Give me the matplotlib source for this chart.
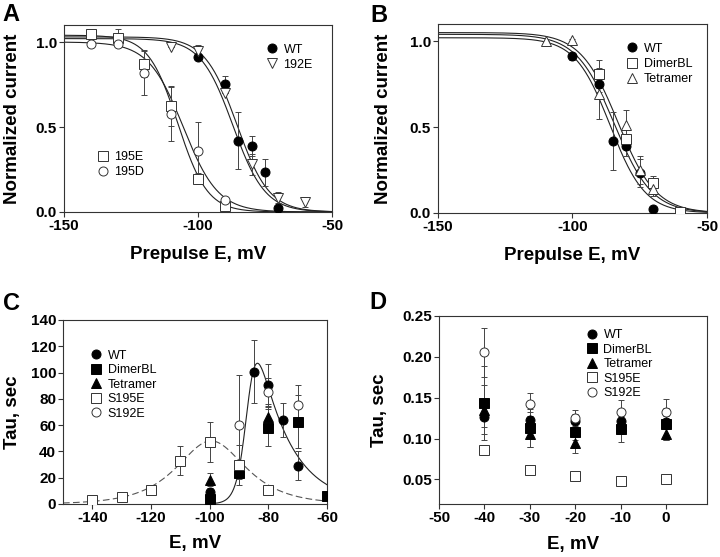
import matplotlib
matplotlib.use("Agg")
import matplotlib.pyplot as plt
import numpy as np

plt.rcParams['font.family'] = ['Liberation Sans', 'DejaVu Sans']
plt.rcParams['axes.unicode_minus'] = False

# ---- panel A: steady-state inactivation, mutants ----
a_wt_e = [-100, -90, -85, -80, -75, -70]
a_wt_v = [0.912, 0.752, 0.42, 0.39, 0.234, 0.025]
a_wt_err = [0.02, 0.05, 0.17, 0.06, 0.08, 0.0]
a_192e_e = [-110, -100, -90, -80, -70, -60]
a_192e_v = [0.97, 0.95, 0.70, 0.28, 0.085, 0.06]
a_192e_err = [0.0, 0.03, 0.0, 0.06, 0.03, 0.03]
a_195e_e = [-140, -130, -120, -110, -100, -90]
a_195e_v = [1.045, 1.025, 0.873, 0.624, 0.197, 0.035]
a_195e_err = [0.02, 0.05, 0.08, 0.12, 0.03, 0.0]
a_195d_e = [-140, -130, -120, -110, -100, -90]
a_195d_v = [0.99, 0.986, 0.82, 0.577, 0.357, 0.068]
a_195d_err = [0.0, 0.0, 0.13, 0.16, 0.17, 0.0]
# Boltzmann fit parameters: top, V1/2, slope
a_fits = [(1.02, -87.0, 6.0), (1.03, -85.5, 6.0), (1.04, -107.5, 5.5), (1.0, -105.5, 6.5)]

# ---- panel B: WT, dimer, tetramer ----
b_wt_e = a_wt_e
b_wt_v = a_wt_v
b_wt_err = a_wt_err
b_dim_e = [-90, -80, -70, -60]
b_dim_v = [0.81, 0.43, 0.175, 0.004]
b_dim_err = [0.08, 0.03, 0.04, 0.0]
b_tet_e = [-110, -100, -90, -80, -75, -70]
b_tet_v = [1.0, 1.005, 0.695, 0.51, 0.25, 0.14]
b_tet_err = [0.0, 0.01, 0.15, 0.09, 0.08, 0.04]
b_fits = [(1.02, -86.0, 6.5), (1.05, -83.0, 7.0), (1.04, -84.5, 7.0)]

# ---- panel C: tau at prepulse potentials ----
c_wt_e = [-100, -85, -80, -75, -70]
c_wt_v = [9.0, 100.6, 90.3, 64.0, 29.2]
c_wt_err = [3, 24, 16, 13, 11]
c_dim_e = [-100, -90, -80, -70, -60]
c_dim_v = [3.9, 23.7, 58.0, 62.7, 5.7]
c_dim_err = [2, 5, 14, 20, 0]
c_tet_e = [-100, -80]
c_tet_v = [18.6, 66.3]
c_tet_err = [5, 10]
c_195_e = [-140, -130, -120, -110, -100, -90, -80]
c_195_v = [3.1, 5.2, 10.3, 32.8, 47.0, 29.7, 10.8]
c_195_err = [0, 0, 0, 11, 15, 15, 0]
c_192_e = [-90, -80, -70]
c_192_v = [60.0, 85.0, 75.6]
c_192_err = [38, 11, 15]
# bell fits: A, V0, w1, w2 ; tau = A / (exp((V-V0)/w1) + exp(-(V-V0)/w2))
c_fit_solid = (164.5, -86.6, 11.0, 2.0)
c_fit_dash = (96.0, -99.5, 10.4, 10.4)

# ---- panel D: tau at test potentials ----
d_e = [-40, -30, -20, -10, 0]
d_wt = [0.1265, 0.123, 0.1216, 0.122, 0.120]
d_wt_err = [0.012, 0.01, 0.008, 0.01, 0.008]
d_dim = [0.1436, 0.113, 0.108, 0.112, 0.118]
d_dim_err = [0.045, 0.023, 0.01, 0.016, 0.02]
d_tet = [0.135, 0.106, 0.094, 0.116, 0.106]
d_tet_err = [0.03, 0.016, 0.0115, 0.01, 0.008]
d_195 = [0.0866, 0.0613, 0.054, 0.048, 0.050]
d_195_err = [0, 0, 0, 0, 0]
d_192 = [0.2055, 0.142, 0.125, 0.132, 0.132]
d_192_err = [0.03, 0.014, 0.01, 0.015, 0.017]


def boltz(v, top, vh, k):
    return top / (1 + np.exp((v - vh) / k))


def bell(v, a, v0, w1, w2):
    return a / (np.exp((v - v0) / w1) + np.exp(-(v - v0) / w2))


def pts(ax, x, y, err, marker, filled, label, z=3):
    fc = 'black' if filled else 'white'
    ec = 'black' if filled else '#333333'
    ax.errorbar(x, y, yerr=err, fmt='none', ecolor='#444444', elinewidth=0.7,
                capsize=2.2, capthick=0.7, zorder=2)
    ax.plot(x, y, linestyle='none', marker=marker, markersize=6.5, markerfacecolor=fc,
            markeredgecolor=ec, markeredgewidth=0.7, label=label, zorder=z)


def style(ax):
    for s in ax.spines.values():
        s.set_color('#333333')
        s.set_linewidth(0.8)
    ax.tick_params(direction='out', length=3.5, width=0.8, color='#333333',
                   labelsize=11, pad=1.5)
    for t in ax.get_xticklabels() + ax.get_yticklabels():
        t.set_fontweight('bold')


fig = plt.figure(figsize=(7.2, 5.57), dpi=100)
axA = fig.add_axes([0.0889, 0.6194, 0.3722, 0.3357])
axB = fig.add_axes([0.6083, 0.6176, 0.3736, 0.3393])
axC = fig.add_axes([0.0875, 0.0952, 0.3667, 0.3303])
axD = fig.add_axes([0.6097, 0.0952, 0.3722, 0.3375])

lw_fit = 0.8
vv = np.linspace(-150, -50, 300)

# A
for p in a_fits:
    axA.plot(vv, boltz(vv, *p), color='#222222', linewidth=lw_fit, zorder=1)
pts(axA, a_wt_e, a_wt_v, a_wt_err, 'o', True, 'WT')
pts(axA, a_192e_e, a_192e_v, a_192e_err, 'v', False, '192E')
pts(axA, a_195e_e, a_195e_v, a_195e_err, 's', False, '195E')
pts(axA, a_195d_e, a_195d_v, a_195d_err, 'o', False, '195D')
axA.set_xlim(-150, -50)
axA.set_ylim(0, 1.1)
axA.set_xticks([-150, -100, -50])
axA.set_yticks([0, 0.5, 1.0])
axA.set_yticklabels(['0.0', '0.5', '1.0'])
h, l = axA.get_legend_handles_labels()
leg1 = axA.legend(h[:2], l[:2], loc='upper right', bbox_to_anchor=(0.97, 0.96), frameon=False,
                  fontsize=9, handlelength=1.0, handletextpad=0.4, labelspacing=0.25)
axA.add_artist(leg1)
axA.legend(h[2:], l[2:], loc='lower left', bbox_to_anchor=(0.08, 0.12), frameon=False,
           fontsize=9, handlelength=1.0, handletextpad=0.4, labelspacing=0.25)

# B
for p in b_fits:
    axB.plot(vv, boltz(vv, *p), color='#222222', linewidth=lw_fit, zorder=1)
pts(axB, b_wt_e, b_wt_v, b_wt_err, 'o', True, 'WT')
pts(axB, b_dim_e, b_dim_v, b_dim_err, 's', False, 'DimerBL')
pts(axB, b_tet_e, b_tet_v, b_tet_err, '^', False, 'Tetramer')
axB.set_xlim(-150, -50)
axB.set_ylim(0, 1.1)
axB.set_xticks([-150, -100, -50])
axB.set_yticks([0, 0.5, 1.0])
axB.set_yticklabels(['0.0', '0.5', '1.0'])
axB.legend(loc='upper right', bbox_to_anchor=(0.99, 0.96), frameon=False,
           fontsize=9, handlelength=1.0, handletextpad=0.4, labelspacing=0.25)

# C
vc = np.linspace(-150, -60, 400)
vs = vc[vc >= -100]
axC.plot(vs, bell(vs, *c_fit_solid), color='#222222', linewidth=lw_fit, zorder=1)
axC.plot(vc, bell(vc, *c_fit_dash), color='#555555', linewidth=lw_fit, dashes=(6, 3), zorder=1)
pts(axC, c_wt_e, c_wt_v, c_wt_err, 'o', True, 'WT')
pts(axC, c_dim_e, c_dim_v, c_dim_err, 's', True, 'DimerBL')
pts(axC, c_tet_e, c_tet_v, c_tet_err, '^', True, 'Tetramer')
pts(axC, c_195_e, c_195_v, c_195_err, 's', False, 'S195E')
pts(axC, c_192_e, c_192_v, c_192_err, 'o', False, 'S192E')
axC.set_xlim(-150, -60)
axC.set_ylim(0, 140)
axC.set_xticks([-140, -120, -100, -80, -60])
axC.set_yticks(range(0, 141, 20))
axC.legend(loc='upper left', bbox_to_anchor=(0.06, 0.9), frameon=False,
           fontsize=9, handlelength=1.0, handletextpad=0.4, labelspacing=0.2)

# D (tetramer drawn underneath so it hides like in the original)
pts(axD, d_e, d_wt, d_wt_err, 'o', True, 'WT', z=4)
pts(axD, d_e, d_dim, d_dim_err, 's', True, 'DimerBL', z=4)
pts(axD, d_e, d_tet, d_tet_err, '^', True, 'Tetramer', z=3)
pts(axD, d_e, d_195, d_195_err, 's', False, 'S195E', z=4)
pts(axD, d_e, d_192, d_192_err, 'o', False, 'S192E', z=5)
axD.set_xlim(-50, 9)
axD.set_ylim(0.02, 0.25)
axD.set_xticks([-50, -40, -30, -20, -10, 0])
axD.set_yticks([0.05, 0.10, 0.15, 0.20, 0.25])
axD.set_yticklabels(['0.05', '0.10', '0.15', '0.20', '0.25'])
axD.legend(loc='upper right', bbox_to_anchor=(0.84, 0.99), frameon=False,
           fontsize=9, handlelength=1.0, handletextpad=0.4, labelspacing=0.2)

for ax in (axA, axB, axC, axD):
    style(ax)

lab = dict(fontsize=13.5, fontweight='bold')
axA.set_ylabel('Normalized current', **lab)
axB.set_ylabel('Normalized current', **lab)
axC.set_ylabel('Tau, sec', **lab)
axD.set_ylabel('Tau, sec', **lab)
axA.set_xlabel('Prepulse E, mV', **lab)
axB.set_xlabel('Prepulse E, mV', **lab)
axC.set_xlabel('E, mV', **lab)
axD.set_xlabel('E, mV', **lab)
axA.yaxis.set_label_coords(-0.16, 0.5)
axB.yaxis.set_label_coords(-0.17, 0.5)
axC.yaxis.set_label_coords(-0.16, 0.5)
axD.yaxis.set_label_coords(-0.19, 0.5)
for ax in (axA, axB):
    ax.xaxis.set_label_coords(0.5, -0.18)
for ax in (axC, axD):
    ax.xaxis.set_label_coords(0.5, -0.17)

pl = dict(fontsize=17, fontweight='bold', ha='left', va='top')
fig.text(0.004, 0.995, 'A', **pl)
fig.text(0.515, 0.993, 'B', **pl)
fig.text(0.004, 0.475, 'C', **pl)
fig.text(0.513, 0.478, 'D', **pl)

fig.savefig('out.png', dpi=100)
